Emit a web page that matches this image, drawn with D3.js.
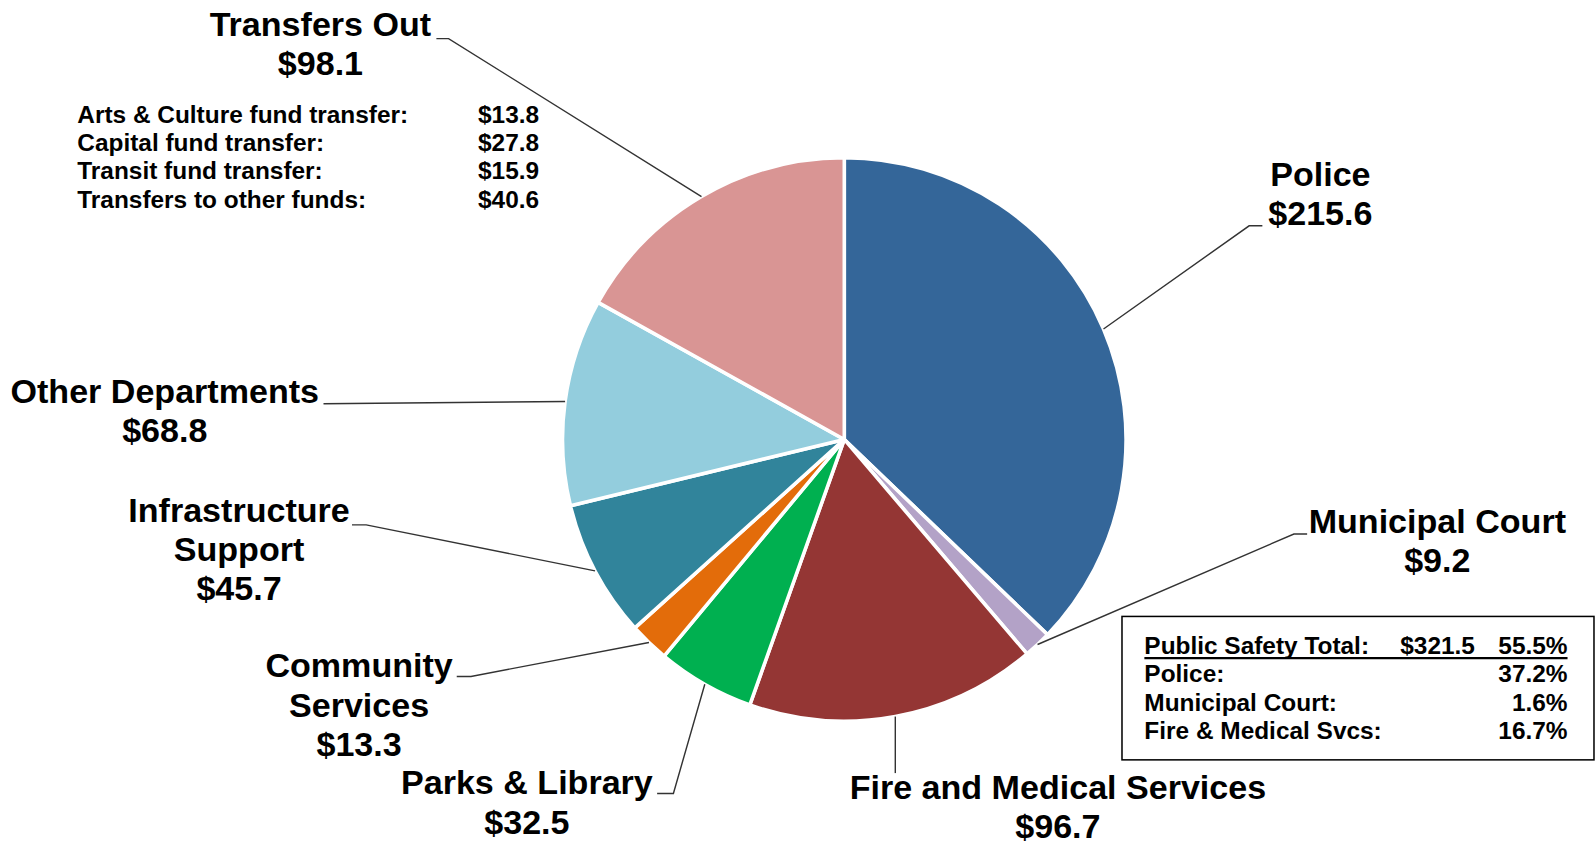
<!DOCTYPE html>
<html>
<head>
<meta charset="utf-8">
<script src="https://cdn.jsdelivr.net/npm/d3@7"></script>
<style>
  body { margin: 0; background: #fff; }
  svg text { font-family: "Liberation Sans", Arial, sans-serif; font-weight: bold; fill: #000; }
</style>
</head>
<body>
<script>
// data (millions)
var categories = ['Police', 'Municipal Court', 'Fire and Medical Services', 'Parks & Library',
	'Community Services', 'Infrastructure Support', 'Other Departments', 'Transfers Out'];
var values = [215.6, 9.2, 96.7, 32.5, 13.3, 45.7, 68.8, 98.1];
var colors = ['#346699', '#b3a2c7', '#943634', '#00b050', '#e36c0a', '#31849b', '#93cddd', '#d99594'];

var transferNames = ['Arts & Culture fund transfer:', 'Capital fund transfer:', 'Transit fund transfer:', 'Transfers to other funds:'];
var transferValues = ['$13.8', '$27.8', '$15.9', '$40.6'];

var safetyNames = ['Public Safety Total:', 'Police:', 'Municipal Court:', 'Fire & Medical Svcs:'];
var safetyAmounts = ['$321.5', '', '', ''];
var safetyPcts = ['55.5%', '37.2%', '1.6%', '16.7%'];

// label layout: text lines, text centre, elbow of leader, tail end
var labelLayout = [
	{ lines: ['Police', '$215.6'], x: 1298, y: 183, elbow: [1228, 222], tail: 1241 },
	{ lines: ['Municipal Court', '$9.2'], x: 1413, y: 524, elbow: [1272, 525], tail: 1285 },
	{ lines: ['Fire and Medical Services', '$96.7'], x: 1040, y: 785, elbow: null, tail: 760 },
	{ lines: ['Parks & Library', '$32.5'], x: 518, y: 781, elbow: [662, 780], tail: 646 },
	{ lines: ['Community', 'Services', '$13.3'], x: 353, y: 666, elbow: [463, 665], tail: 449 },
	{ lines: ['Infrastructure', 'Support', '$45.7'], x: 235, y: 513, elbow: [360, 516], tail: 346 },
	{ lines: ['Other Departments', '$68.8'], x: 162, y: 396, elbow: null, tail: [318, 397] },
	{ lines: ['Transfers Out', '$98.1'], x: 315, y: 35, elbow: [441, 38], tail: 429 }
];

var width = 1595, height = 844;
// layout was measured on a 1568 wide copy
var k = width / 1568;
var cx = 830, cy = 432, radius = 277;

var svg = d3.select('body')
	.append('svg')
	.attr('width', width)
	.attr('height', height);

var root = svg.append('g').attr('transform', 'scale(' + k + ')');

var pie = d3.pie().sort(null).value(function(d) { return d; });
var arcs = pie(values);

var arc = d3.arc().innerRadius(0).outerRadius(radius);

var g = root.append('g').attr('transform', 'translate(' + cx + ',' + cy + ')');

g.selectAll('path')
	.data(arcs)
	.enter()
	.append('path')
	.attr('d', arc)
	.attr('fill', function(d, i) { return colors[i]; })
	.attr('stroke', '#fff')
	.attr('stroke-width', 3.5)
	.attr('stroke-linejoin', 'round');

// leader lines start at the outer edge, mid angle
function edgePoint(d) {
	var a = (d.startAngle + d.endAngle) / 2;
	return [cx + radius * Math.sin(a), cy - radius * Math.cos(a)];
}

arcs.forEach(function(d, i) {
	var lay = labelLayout[i];
	var p = edgePoint(d);
	var pts = [p];
	if (lay.elbow) {
		pts.push(lay.elbow);
		pts.push([lay.tail, lay.elbow[1]]);
	} else if (Array.isArray(lay.tail)) {
		pts.push(lay.tail);
	} else {
		pts.push([p[0], lay.tail]);
	}
	root.append('path')
		.attr('d', d3.line()(pts))
		.attr('fill', 'none')
		.attr('stroke', '#333')
		.attr('stroke-width', 1.4);

	var t = root.append('text')
		.attr('text-anchor', 'middle')
		.attr('font-size', 33.5);
	lay.lines.forEach(function(s, j) {
		t.append('tspan')
			.attr('x', lay.x)
			.attr('y', lay.y + j * 38.5)
			.text(s);
	});
});

// transfers breakdown
var tg = root.append('g').attr('font-size', 24);
transferNames.forEach(function(s, i) {
	tg.append('text').attr('x', 76).attr('y', 121 + i * 27.7).text(s);
	tg.append('text').attr('x', 530).attr('y', 121 + i * 27.7)
		.attr('text-anchor', 'end').text(transferValues[i]);
});

// public safety box
var bg = root.append('g').attr('font-size', 24);
bg.append('rect')
	.attr('x', 1103).attr('y', 606)
	.attr('width', 464).attr('height', 141)
	.attr('fill', '#fff')
	.attr('stroke', '#000')
	.attr('stroke-width', 1.5);
safetyNames.forEach(function(s, i) {
	var y = 643 + i * 27.8;
	bg.append('text').attr('x', 1125).attr('y', y).text(s);
	if (safetyAmounts[i]) {
		bg.append('text').attr('x', 1450).attr('y', y)
			.attr('text-anchor', 'end').text(safetyAmounts[i]);
	}
	bg.append('text').attr('x', 1541).attr('y', y)
		.attr('text-anchor', 'end').text(safetyPcts[i]);
});
bg.append('line')
	.attr('x1', 1125).attr('x2', 1541)
	.attr('y1', 647).attr('y2', 647)
	.attr('stroke', '#000')
	.attr('stroke-width', 2);
</script>
</body>
</html>
